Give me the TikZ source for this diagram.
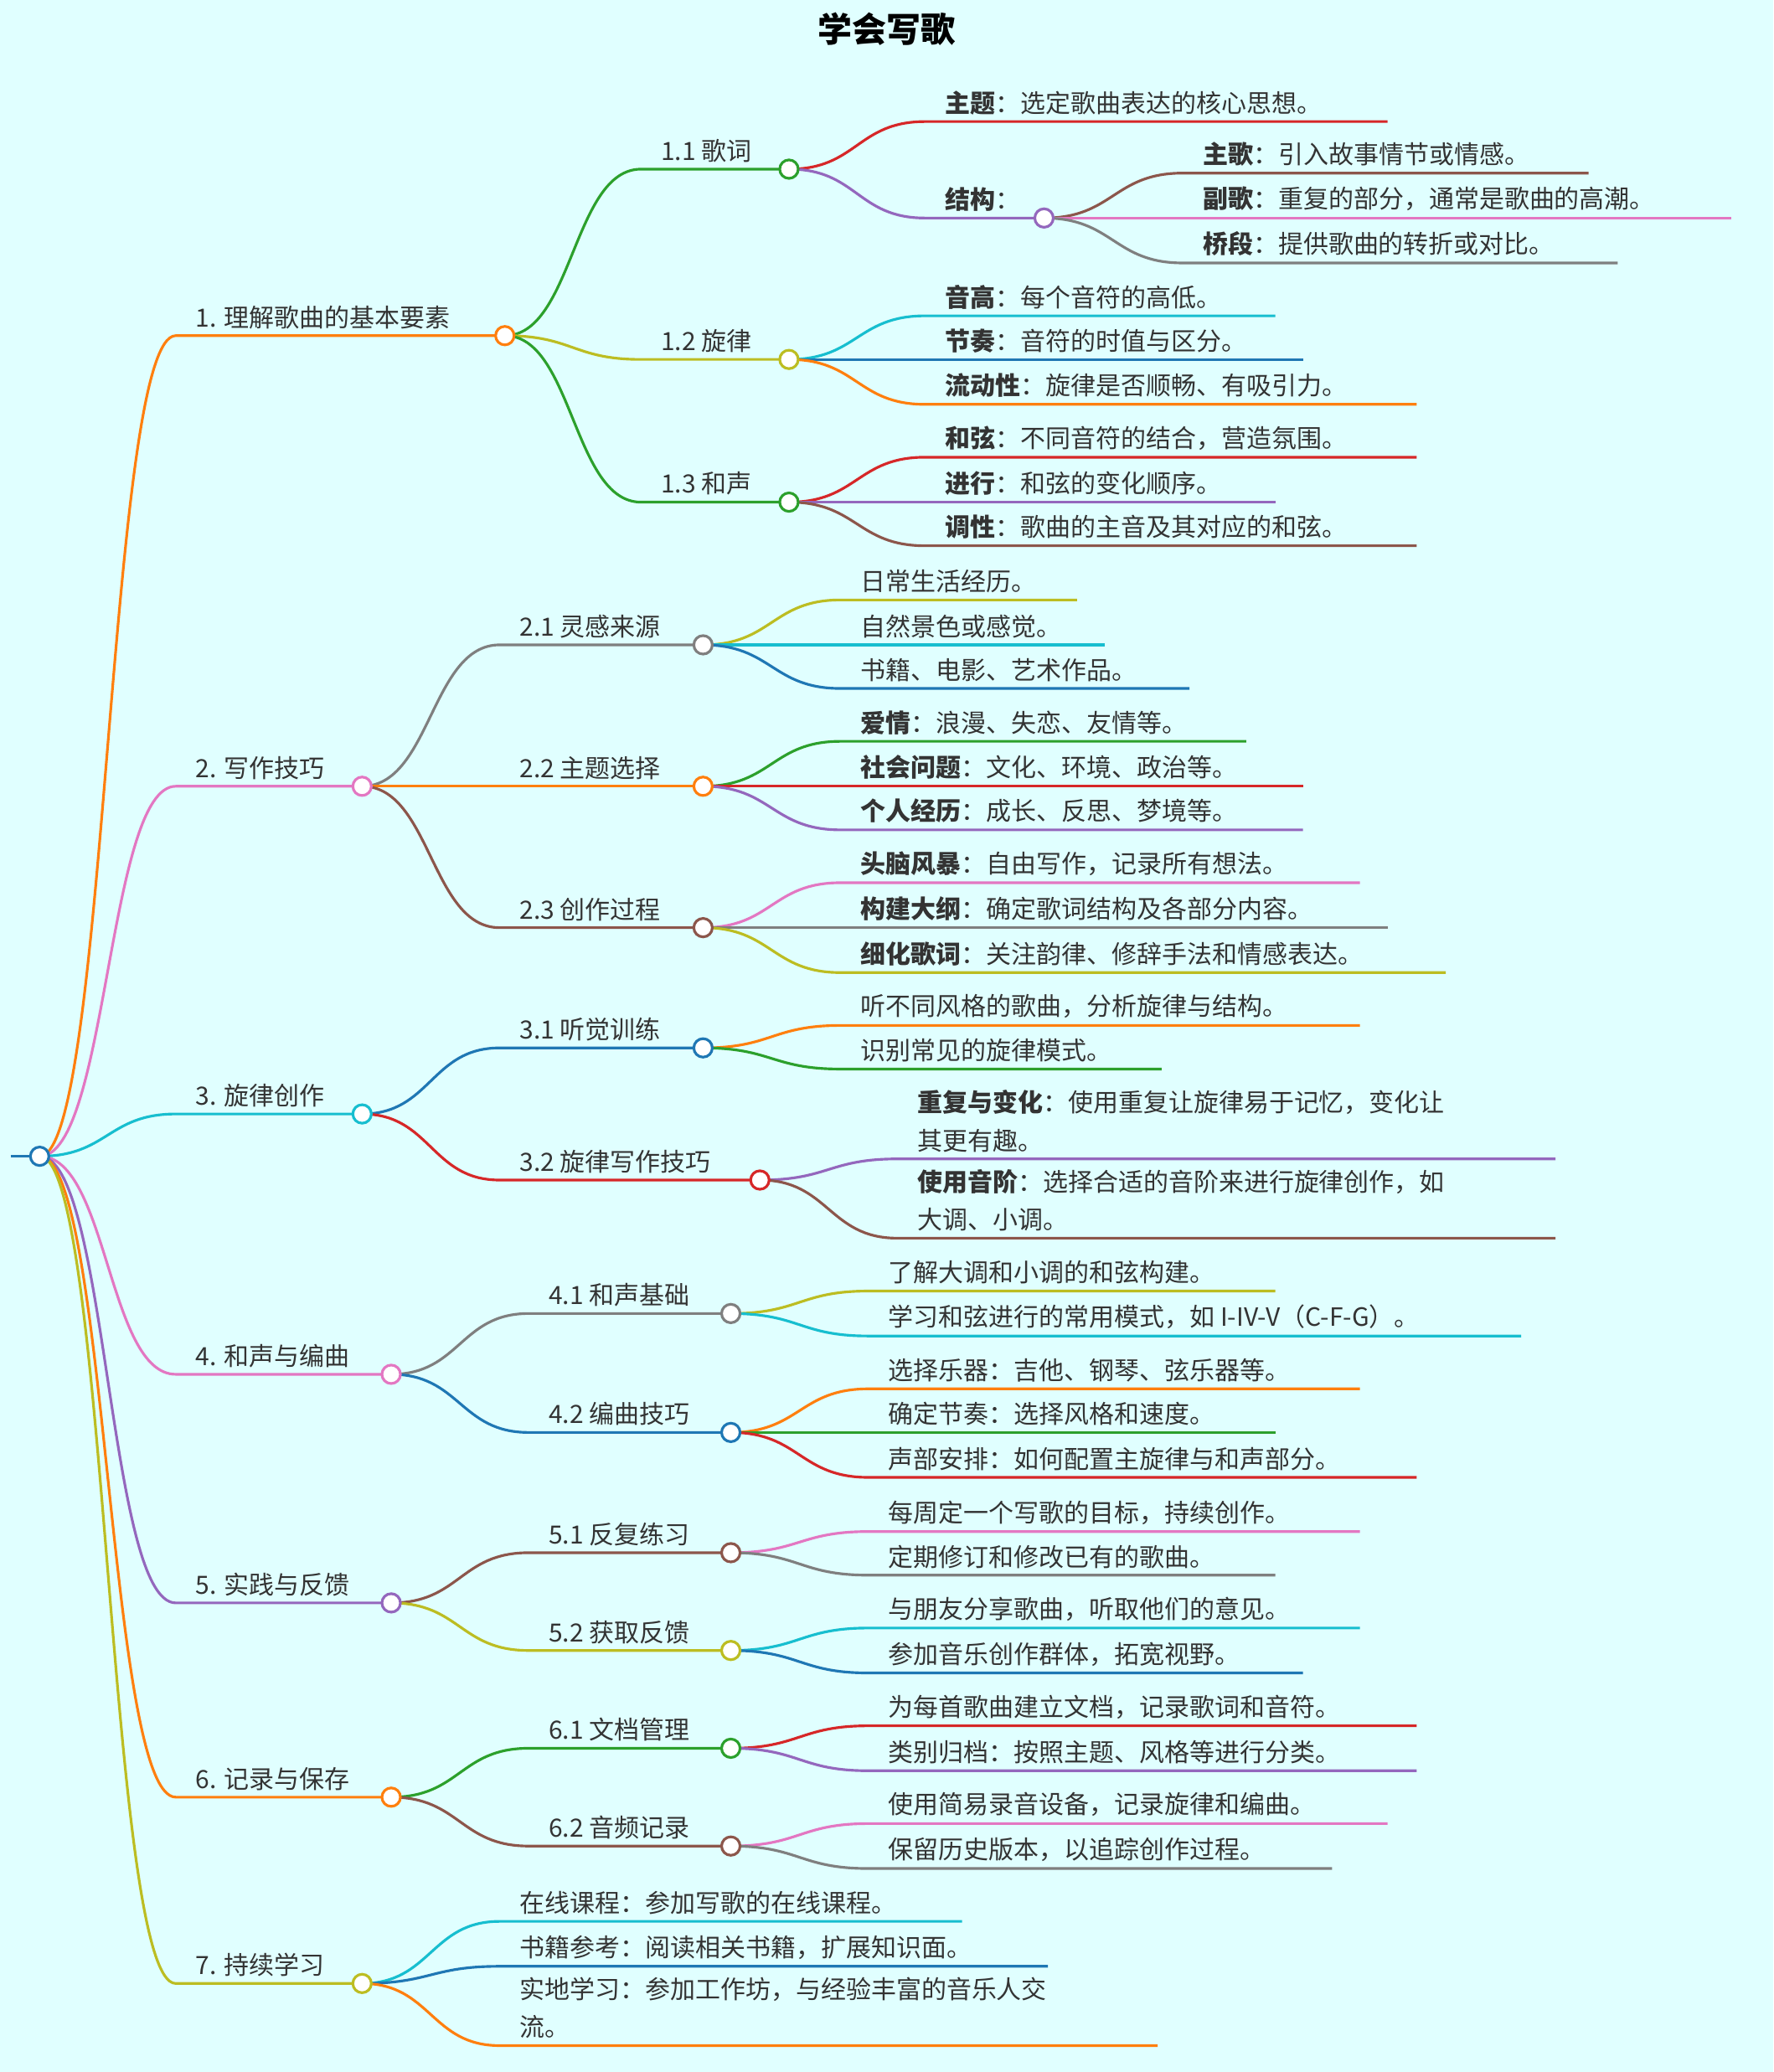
\documentclass[tikz,border=0pt]{standalone}
\usepackage{fontspec}
\setmainfont{Noto Sans CJK SC}
\usetikzlibrary{calc}
\definecolor{cor}{HTML}{FF7F0E}\definecolor{cpk}{HTML}{E377C2}\definecolor{ccy}{HTML}{17BECF}
\definecolor{cpu}{HTML}{9467BD}\definecolor{col}{HTML}{BCBD22}\definecolor{cgr}{HTML}{2CA02C}
\definecolor{crd}{HTML}{D62728}\definecolor{cbr}{HTML}{8C564B}\definecolor{cgy}{HTML}{7F7F7F}
\definecolor{cbl}{HTML}{1F77B4}\definecolor{bg}{HTML}{E0FFFF}\definecolor{txt}{HTML}{333333}
\tikzset{mm/.style={line width=2pt}}
% #1 name, #2 parent, #3 text x, #4 y, #5 end x, #6 color, #7 text
\newcommand\mmline[7]{%
 \coordinate (#1) at (#5,#4);
 \coordinate (#1s) at ({#3-15},#4);
 \coordinate (#1m) at ($(#2)!0.5!(#1s)$);
 \draw[#6,mm] (#2) .. controls (#1m |- #2) and (#1m |- #1s) .. (#1s) -- (#1);
 \node[anchor=south west,inner sep=0pt,text=txt,align=left,font=\fontsize{19}{29}\selectfont] (#1t) at (#3,{#4-5}) {#7};}
\begin{document}
\begin{tikzpicture}[x=1pt,y=-1pt]
\useasboundingbox (0,0) rectangle (1342,1568);
\fill[bg] (0,0) rectangle (1342,1568);
\node[text=black,font=\fontsize{26}{30}\selectfont\bfseries] (title) at (671,22) {学会写歌};
\coordinate (root) at (30,875);
\coordinate (rootl) at (8,875);
\draw[cbl,mm] (rootl) -- (root);
\mmline{n1}{root}{148}{254}{382}{cor}{1. 理解歌曲的基本要素}
\mmline{n2}{root}{148}{595}{274}{cpk}{2. 写作技巧}
\mmline{n3}{root}{148}{843}{274}{ccy}{3. 旋律创作}
\mmline{n4}{root}{148}{1040}{296}{cpk}{4. 和声与编曲}
\mmline{n5}{root}{148}{1213}{296}{cpu}{5. 实践与反馈}
\mmline{n6}{root}{148}{1360}{296}{cor}{6. 记录与保存}
\mmline{n7}{root}{148}{1501}{274}{col}{7. 持续学习}
\mmline{n11}{n1}{500}{128}{597}{cgr}{1.1 歌词}
\mmline{n12}{n1}{500}{272}{597}{col}{1.2 旋律}
\mmline{n13}{n1}{500}{380}{597}{cgr}{1.3 和声}
\mmline{a1}{n11}{715}{92}{1050}{crd}{\textbf{主题}：选定歌曲表达的核心思想。}
\mmline{n11b}{n11}{715}{165}{790}{cpu}{\textbf{结构}：}
\mmline{a2}{n11b}{910}{131}{1202}{cbr}{\textbf{主歌}：引入故事情节或情感。}
\mmline{a3}{n11b}{910}{165}{1310}{cpk}{\textbf{副歌}：重复的部分，通常是歌曲的高潮。}
\mmline{a4}{n11b}{910}{199}{1224}{cgy}{\textbf{桥段}：提供歌曲的转折或对比。}
\mmline{b1}{n12}{715}{239}{965}{ccy}{\textbf{音高}：每个音符的高低。}
\mmline{b2}{n12}{715}{272}{986}{cbl}{\textbf{节奏}：音符的时值与区分。}
\mmline{b3}{n12}{715}{306}{1072}{cor}{\textbf{流动性}：旋律是否顺畅、有吸引力。}
\mmline{c1}{n13}{715}{346}{1072}{crd}{\textbf{和弦}：不同音符的结合，营造氛围。}
\mmline{c2}{n13}{715}{380}{965}{cpu}{\textbf{进行}：和弦的变化顺序。}
\mmline{c3}{n13}{715}{413}{1072}{cbr}{\textbf{调性}：歌曲的主音及其对应的和弦。}
\mmline{n21}{n2}{393}{488}{532}{cgy}{2.1 灵感来源}
\mmline{n22}{n2}{393}{595}{532}{cor}{2.2 主题选择}
\mmline{n23}{n2}{393}{702}{532}{cbr}{2.3 创作过程}
\mmline{d1}{n21}{651}{454}{815}{col}{日常生活经历。}
\mmline{d2}{n21}{651}{488}{836}{ccy}{自然景色或感觉。}
\mmline{d3}{n21}{651}{521}{900}{cbl}{书籍、电影、艺术作品。}
\mmline{e1}{n22}{651}{561}{943}{cgr}{\textbf{爱情}：浪漫、失恋、友情等。}
\mmline{e2}{n22}{651}{595}{986}{crd}{\textbf{社会问题}：文化、环境、政治等。}
\mmline{e3}{n22}{651}{628}{986}{cpu}{\textbf{个人经历}：成长、反思、梦境等。}
\mmline{f1}{n23}{651}{668}{1029}{cpk}{\textbf{头脑风暴}：自由写作，记录所有想法。}
\mmline{f2}{n23}{651}{702}{1050}{cgy}{\textbf{构建大纲}：确定歌词结构及各部分内容。}
\mmline{f3}{n23}{651}{736}{1094}{col}{\textbf{细化歌词}：关注韵律、修辞手法和情感表达。}
\mmline{n31}{n3}{393}{793}{532}{cbl}{3.1 听觉训练}
\mmline{n32}{n3}{393}{893}{575}{crd}{3.2 旋律写作技巧}
\mmline{g1}{n31}{651}{776}{1029}{cor}{听不同风格的歌曲，分析旋律与结构。}
\mmline{g2}{n31}{651}{809}{879}{cgr}{识别常见的旋律模式。}
\mmline{h1}{n32}{694}{877}{1177}{cpu}{\textbf{重复与变化}：使用重复让旋律易于记忆，变化让\\其更有趣。}
\mmline{h2}{n32}{694}{937}{1177}{cbr}{\textbf{使用音阶}：选择合适的音阶来进行旋律创作，如\\大调、小调。}
\mmline{n41}{n4}{415}{994}{553}{cgy}{4.1 和声基础}
\mmline{n42}{n4}{415}{1084}{553}{cbl}{4.2 编曲技巧}
\mmline{i1}{n41}{672}{977}{965}{col}{了解大调和小调的和弦构建。}
\mmline{i2}{n41}{672}{1011}{1151}{ccy}{学习和弦进行的常用模式，如 I-IV-V（C-F-G）。}
\mmline{j1}{n42}{672}{1051}{1029}{cor}{选择乐器：吉他、钢琴、弦乐器等。}
\mmline{j2}{n42}{672}{1084}{965}{cgr}{确定节奏：选择风格和速度。}
\mmline{j3}{n42}{672}{1118}{1072}{crd}{声部安排：如何配置主旋律与和声部分。}
\mmline{n51}{n5}{415}{1175}{553}{cbr}{5.1 反复练习}
\mmline{n52}{n5}{415}{1249}{553}{col}{5.2 获取反馈}
\mmline{k1}{n51}{672}{1159}{1029}{cpk}{每周定一个写歌的目标，持续创作。}
\mmline{k2}{n51}{672}{1192}{965}{cgy}{定期修订和修改已有的歌曲。}
\mmline{l1}{n52}{672}{1232}{1029}{ccy}{与朋友分享歌曲，听取他们的意见。}
\mmline{l2}{n52}{672}{1266}{986}{cbl}{参加音乐创作群体，拓宽视野。}
\mmline{n61}{n6}{415}{1323}{553}{cgr}{6.1 文档管理}
\mmline{n62}{n6}{415}{1397}{553}{cbr}{6.2 音频记录}
\mmline{m1}{n61}{672}{1306}{1072}{crd}{为每首歌曲建立文档，记录歌词和音符。}
\mmline{m2}{n61}{672}{1340}{1072}{cpu}{类别归档：按照主题、风格等进行分类。}
\mmline{o1}{n62}{672}{1380}{1050}{cpk}{使用简易录音设备，记录旋律和编曲。}
\mmline{o2}{n62}{672}{1414}{1008}{cgy}{保留历史版本，以追踪创作过程。}
\mmline{p1}{n7}{393}{1454}{728}{ccy}{在线课程：参加写歌的在线课程。}
\mmline{p2}{n7}{393}{1488}{793}{cbl}{书籍参考：阅读相关书籍，扩展知识面。}
\mmline{p3}{n7}{393}{1548}{876}{cor}{实地学习：参加工作坊，与经验丰富的音乐人交\\流。}
\foreach \n/\c in {root/cbl,n1/cor,n2/cpk,n3/ccy,n4/cpk,n5/cpu,n6/cor,n7/col,
 n11/cgr,n12/col,n13/cgr,n11b/cpu,n21/cgy,n22/cor,n23/cbr,n31/cbl,n32/crd,
 n41/cgy,n42/cbl,n51/cbr,n52/col,n61/cgr,n62/cbr}
 \draw[\c,fill=white,line width=2pt] (\n) circle[radius=7pt];
\end{tikzpicture}
\end{document}
